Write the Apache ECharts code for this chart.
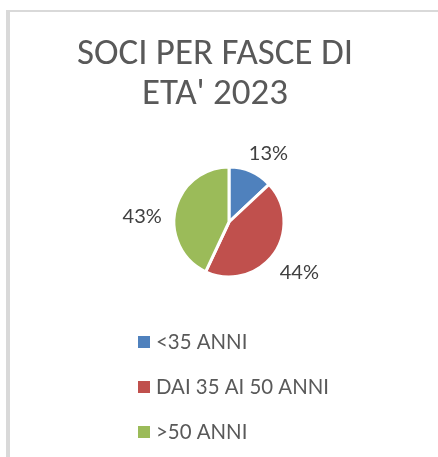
<!DOCTYPE html>
<html>
<head>
<meta charset="utf-8">
<script src="https://cdn.jsdelivr.net/npm/echarts@6/dist/echarts.min.js"></script>
<style>
  html, body { margin: 0; padding: 0; background: #fff; }
  #frame { position: absolute; left: 6px; top: 10px; width: 432px; height: 447px;
           border-left: 4px solid #d9d9d9; border-top: 2px solid #d9d9d9; box-sizing: border-box; }
  #main { position: absolute; left: 0; top: 0; width: 438px; height: 457px; }
</style>
</head>
<body>
<div id="frame"></div>
<div id="main"></div>
<script>
var categorie = ['<35 ANNI', 'DAI 35 AI 50 ANNI', '>50 ANNI'];
var percentuali = [13, 44, 43];
var colori = ['#4f81bd', '#c0504d', '#9bbb59'];

// piccoli spostamenti delle etichette per avvicinarle a quelle di Excel
var spostaX = [-15, -15, 11];
var spostaY = [0, 6, 11];

var fontTitolo = 'Carlito, Roboto, sans-serif';
var font = 'Lato, "Open Sans", sans-serif';

var dati = [];
for (var i = 0; i < categorie.length; i++) {
  dati.push({ name: categorie[i], value: percentuali[i], itemStyle: { color: colori[i] } });
}

var chart = echarts.init(document.getElementById('main'), null, { renderer: 'canvas' });

var option = {
  animation: false,
  title: {
    text: "SOCI PER FASCE DI\nETA' 2023",
    left: 215,
    top: 35,
    padding: 0,
    textAlign: 'center',
    textStyle: {
      fontFamily: fontTitolo,
      fontSize: 37,
      fontWeight: 'normal',
      color: '#595959',
      lineHeight: 40
    }
  },
  legend: {
    orient: 'vertical',
    left: 136,
    top: 332,
    padding: 0,
    itemWidth: 14,
    itemHeight: 14,
    itemGap: 25,
    itemTextGap: 4,
    icon: 'rect',
    data: categorie,
    textStyle: {
      fontFamily: font,
      fontSize: 20.4,
      lineHeight: 20,
      color: '#595959'
    }
  },
  series: [{
    type: 'pie',
    center: [229, 222],
    radius: [0, 55],
    startAngle: 90,
    clockwise: true,
    data: dati,
    itemStyle: { borderColor: '#fff', borderWidth: 3 },
    label: {
      show: true,
      position: 'outside',
      formatter: '{c}%',
      fontFamily: font,
      fontSize: 20,
      color: '#404040',
      distanceToLabelLine: 5
    },
    labelLine: { show: false, length: 20, length2: 0 },
    labelLayout: function (p) {
      return { dx: spostaX[p.dataIndex], dy: spostaY[p.dataIndex] };
    },
    emphasis: { disabled: true }
  }]
};
chart.setOption(option);
</script>
</body>
</html>
